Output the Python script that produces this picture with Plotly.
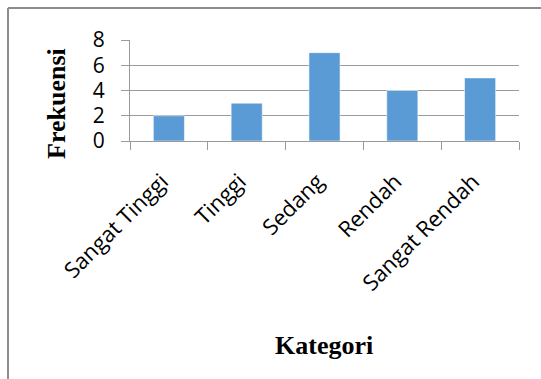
import plotly.graph_objects as go

# Frequency of respondents per category
categories = ["Sangat Tinggi", "Tinggi", "Sedang", "Rendah", "Sangat Rendah"]
frekuensi = [2, 3, 7, 4, 5]
y_ticks = [0, 2, 4, 6, 8]

W, H = 541, 379
L, R, T, B = 130, 22, 40, 238
pw, ph = W - L - R, H - T - B


def px_x(px):
    return (px - L) / pw


def px_y(py):
    return (H - B - py) / ph


fig = go.Figure(
    go.Bar(
        x=categories,
        y=frekuensi,
        marker=dict(color="#5B9BD5", line=dict(color="rgba(255,255,255,0.55)", width=1)),
        width=0.4,
    )
)

grid = "#9a9a9a"
fig.update_layout(
    width=W,
    height=H,
    margin=dict(l=L, r=R, t=T, b=B),
    paper_bgcolor="white",
    plot_bgcolor="white",
    showlegend=False,
    xaxis=dict(
        type="category",
        showgrid=False,
        showline=True,
        linecolor=grid,
        linewidth=1,
        ticks="outside",
        tickson="boundaries",
        ticklen=8,
        tickcolor=grid,
        tickangle=-45,
        tickfont=dict(family="Open Sans", size=22, color="#000"),
        ticklabelstandoff=18,
        ticklabelshift=-7,
    ),
    yaxis=dict(
        range=[0, 8],
        tickvals=y_ticks,
        showgrid=True,
        gridcolor=grid,
        gridwidth=1,
        showline=True,
        linecolor=grid,
        ticks="outside",
        ticklen=8,
        tickcolor=grid,
        tickfont=dict(family="Open Sans", size=21, color="#000"),
        ticklabelstandoff=12,
        zeroline=False,
    ),
    annotations=[
        dict(
            text="<b>Kategori</b>",
            xref="paper", yref="paper",
            x=px_x(324), y=px_y(345),
            showarrow=False,
            font=dict(family="Liberation Serif", size=26, color="#000"),
            xanchor="center", yanchor="middle",
        ),
        dict(
            text="<b>Frekuensi</b>",
            xref="paper", yref="paper",
            x=px_x(56), y=px_y(104),
            showarrow=False,
            textangle=-90,
            font=dict(family="Liberation Serif", size=26, color="#000"),
            xanchor="center", yanchor="middle",
        ),
    ],
    shapes=[
        # chart frame: top and left edges
        dict(type="line", xref="paper", yref="paper",
             x0=px_x(8), y0=px_y(8), x1=px_x(W + 5), y1=px_y(8),
             line=dict(color="#8c8c8c", width=2)),
        dict(type="line", xref="paper", yref="paper",
             x0=px_x(8), y0=px_y(8), x1=px_x(8), y1=px_y(H + 5),
             line=dict(color="#8c8c8c", width=2)),
    ],
)

fig.write_html("out.html")
